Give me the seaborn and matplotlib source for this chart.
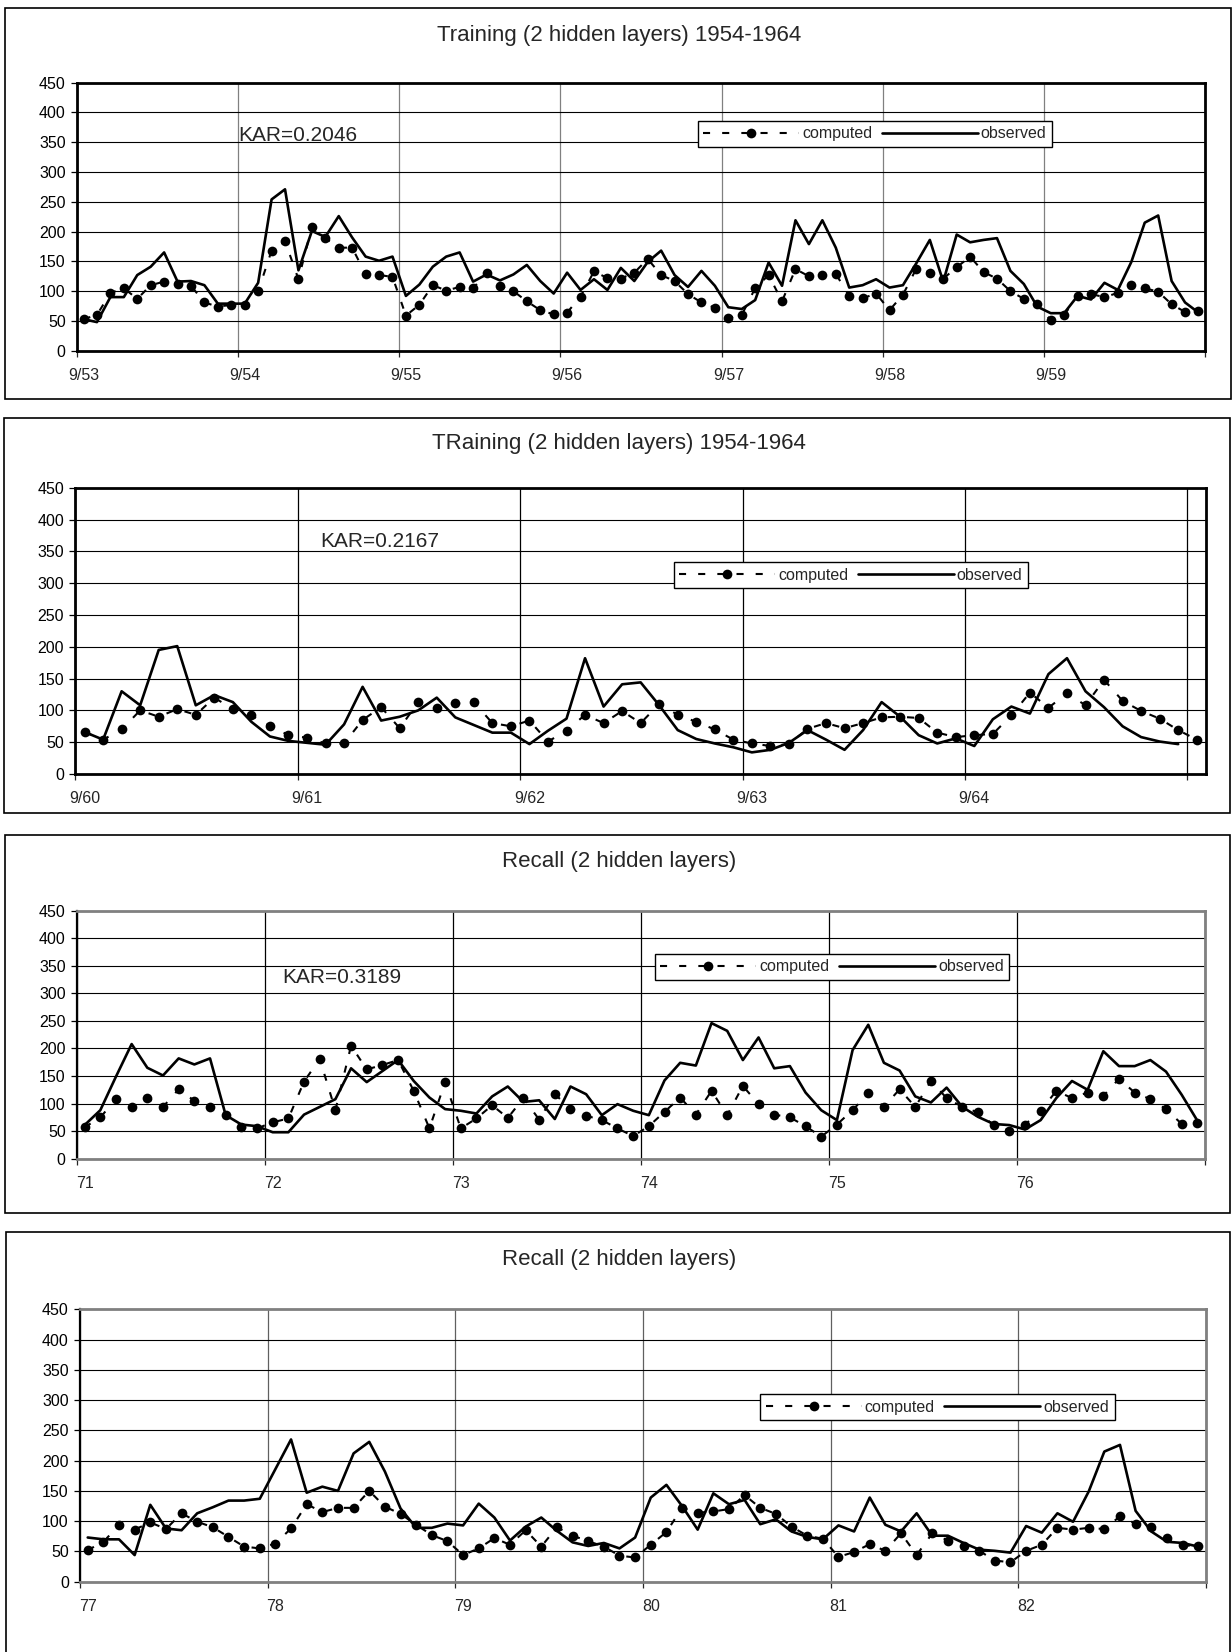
import numpy as np
import matplotlib
matplotlib.use('Agg')
import matplotlib.pyplot as plt
import seaborn as sns
from matplotlib.patches import Rectangle

sns.set_style('white')
plt.rcParams['font.family'] = ['Liberation Sans', 'DejaVu Sans']

# ---- data (monthly values) ----
titles = ['Training (2 hidden layers) 1954-1964',
          'TRaining (2 hidden layers) 1954-1964',
          'Recall (2 hidden layers)',
          'Recall (2 hidden layers)']

p1_labels = ['9/53', '9/54', '9/55', '9/56', '9/57', '9/58', '9/59']
p1_comp = [53, 60, 97, 105, 87, 110, 116, 112, 109, 81, 74, 77,
           76, 100, 168, 184, 120, 208, 189, 173, 173, 128, 127, 124,
           59, 77, 110, 101, 107, 105, 130, 109, 100, 83, 68, 61,
           64, 91, 133, 122, 121, 131, 154, 127, 117, 95, 81, 72,
           55, 60, 105, 127, 83, 137, 125, 127, 129, 92, 88, 96,
           68, 94, 138, 131, 121, 140, 158, 132, 121, 100, 87, 78,
           51, 60, 92, 95, 90, 97, 111, 105, 99, 78, 65, 67]
p1_obs = [53, 48, 90, 90, 127, 141, 165, 116, 117, 110, 79, 79,
          79, 114, 254, 271, 135, 201, 191, 226, 190, 158, 151, 158,
          92, 111, 141, 158, 165, 116, 128, 118, 128, 144, 117, 96,
          131, 102, 120, 102, 139, 117, 149, 168, 127, 107, 134, 109,
          73, 70, 85, 148, 109, 219, 179, 219, 173, 106, 110, 120,
          106, 110, 147, 186, 116, 195, 182, 186, 189, 134, 112, 74,
          63, 63, 92, 86, 114, 102, 149, 215, 227, 117, 81, 64]

p2_labels = ['9/60', '9/61', '9/62', '9/63', '9/64']
p2_comp = [66, 54, 70, 100, 90, 102, 93, 120, 102, 92, 76, 61,
           57, 48, 48, 85, 105, 72, 113, 104, 111, 113, 80, 75,
           84, 51, 68, 93, 80, 99, 80, 110, 93, 82, 70, 54,
           48, 44, 47, 71, 80, 72, 80, 89, 90, 88, 65, 58,
           61, 63, 92, 128, 104, 127, 108, 148, 115, 99, 87, 69,
           54]
p2_obs = [66, 54, 130, 108, 195, 201, 108, 124, 113, 82, 59, 52,
          49, 46, 78, 137, 84, 90, 100, 120, 89, 77, 65, 65,
          47, 68, 87, 182, 106, 141, 144, 108, 69, 55, 48, 42,
          34, 38, 49, 69, 54, 38, 69, 113, 90, 61, 48, 56,
          44, 86, 106, 95, 157, 182, 130, 105, 75, 58, 51, 47]

p3_labels = ['71', '72', '73', '74', '75', '76']
p3_comp = [57, 75, 108, 93, 110, 94, 126, 105, 94, 79, 57, 55,
           66, 73, 140, 181, 88, 205, 162, 170, 179, 123, 55, 139,
           55, 73, 97, 74, 110, 71, 117, 91, 78, 70, 55, 41,
           59, 85, 111, 80, 123, 79, 132, 99, 80, 75, 59, 40,
           62, 88, 119, 94, 126, 94, 141, 110, 94, 84, 61, 51,
           62, 87, 123, 110, 120, 114, 145, 120, 108, 90, 63, 64]
p3_obs = [61, 88, 149, 208, 165, 151, 182, 171, 182, 79, 62, 59,
          48, 48, 80, 94, 108, 164, 139, 159, 179, 141, 111, 90,
          87, 82, 113, 131, 103, 106, 72, 131, 117, 79, 99, 87,
          79, 142, 174, 169, 246, 232, 179, 220, 164, 168, 120, 88,
          70, 197, 243, 174, 160, 113, 102, 129, 94, 76, 63, 61,
          53, 70, 110, 141, 125, 195, 168, 168, 179, 158, 116, 69]

p4_labels = ['77', '78', '79', '80', '81', '82']
p4_comp = [52, 66, 93, 86, 98, 87, 113, 99, 90, 74, 58, 55,
           63, 88, 128, 115, 122, 122, 150, 124, 112, 94, 77, 67,
           44, 55, 72, 61, 85, 58, 90, 76, 67, 58, 43, 40,
           61, 82, 122, 114, 116, 120, 143, 122, 112, 91, 76, 71,
           41, 49, 62, 51, 80, 44, 80, 68, 59, 51, 35, 32,
           51, 61, 89, 86, 89, 87, 108, 96, 91, 72, 60, 59]
p4_obs = [73, 70, 70, 44, 127, 88, 85, 113, 123, 134, 134, 137,
          186, 235, 147, 157, 150, 212, 231, 182, 121, 89, 89, 96,
          93, 129, 106, 68, 91, 106, 84, 65, 59, 64, 55, 73,
          139, 160, 125, 86, 146, 128, 135, 95, 103, 83, 74, 70,
          93, 83, 139, 94, 83, 113, 76, 76, 64, 53, 51, 48,
          92, 81, 113, 99, 149, 215, 226, 117, 83, 66, 64, 58]

kar_texts = ['KAR=0.2046', 'KAR=0.2167', 'KAR=0.3189', None]

W, H = 1232, 1652
fig = plt.figure(figsize=(W / 100, H / 100), dpi=100)
fig.patch.set_facecolor('white')


def px_axes(left, right, top, bottom):
    return fig.add_axes([left / W, 1 - bottom / H, (right - left) / W, (bottom - top) / H])


def draw_panel(ax, comp, obs, n_months, labels, kar, kar_xy, leg_xy, frame, vgrid):
    x_comp = np.arange(len(comp)) + 0.5
    x_obs = np.arange(len(obs)) + 0.5
    sns.lineplot(x=x_comp, y=comp, ax=ax, color='black', linestyle=(0, (3.4, 5.8)),
                 linewidth=1.5, marker='o', markersize=7, markeredgewidth=0,
                 label='computed')
    sns.lineplot(x=x_obs, y=obs, ax=ax, color='black', linewidth=1.9,
                 label='observed')

    ax.set_xlim(0, n_months)
    ax.set_ylim(0, 450)
    ax.set_yticks(range(0, 451, 50))
    bounds = list(range(0, n_months + 1, 12))
    ax.set_xticks(bounds)
    ax.set_xticklabels([])
    ax.set_xticks([b + 0.5 for b in bounds[:len(labels)]], labels, minor=True)
    ax.set_xlabel('')
    ax.set_ylabel('')

    ax.grid(axis='y', color='black', linewidth=0.8)
    ax.grid(axis='x', which='major', color=vgrid, linewidth=0.9)
    ax.set_axisbelow(True)

    ax.tick_params(axis='y', left=True, length=4, width=0.9, pad=4, labelsize=11.5,
                   colors='black')
    ax.tick_params(axis='x', which='major', bottom=True, length=4, width=0.9,
                   labelbottom=False)
    ax.tick_params(axis='x', which='minor', bottom=True, length=0, pad=12.5,
                   labelsize=11.5)

    for side, sp in ax.spines.items():
        sp.set_visible(True)
        sp.set_color(frame)
        sp.set_linewidth(2.0)
    ax.spines['left'].set_color('black')
    ax.spines['left'].set_linewidth(1.6 if frame != 'black' else 2.0)

    if kar:
        ax.text(kar_xy[0], kar_xy[1], kar, fontsize=15, ha='left', va='center')

    leg = ax.legend(loc='center left', bbox_to_anchor=leg_xy, ncol=2, fontsize=11.5,
                    handlelength=6.0, handletextpad=0.2, columnspacing=0.6,
                    borderpad=0.35, frameon=True, fancybox=False, edgecolor='black',
                    framealpha=1)
    leg.get_frame().set_linewidth(1.0)


# outer chart boxes (pixels: left, top, right, bottom)
boxes = [(5, 8, 1231, 399), (4, 418, 1230, 813), (5, 835, 1230, 1213), (6, 1232, 1230, 1700)]
for l, t, r, b in boxes:
    fig.add_artist(Rectangle((l / W, 1 - b / H), (r - l) / W, (b - t) / H,
                             transform=fig.transFigure, fill=False,
                             edgecolor='black', linewidth=1.2))

title_y = [35, 444, 862, 1260]
for t, y in zip(titles, title_y):
    fig.text(619 / W, 1 - y / H, t, ha='center', va='center', fontsize=16)

ax1 = px_axes(76.8, 1205.2, 82.7, 350.7)
draw_panel(ax1, p1_comp, p1_obs, 84, p1_labels, kar_texts[0], (12, 362),
           (0.543, 0.809), 'black', '#808080')

ax2 = px_axes(75.3, 1206, 487.7, 774)
draw_panel(ax2, p2_comp, p2_obs, 61, p2_labels, kar_texts[1], (13.2, 366),
           (0.522, 0.694), 'black', 'black')

ax3 = px_axes(76.8, 1205.2, 910.7, 1158.7)
draw_panel(ax3, p3_comp, p3_obs, 72, p3_labels, kar_texts[2], (13.1, 328),
           (0.505, 0.773), '#808080', 'black')

ax4 = px_axes(79.9, 1206, 1309.3, 1581.7)
draw_panel(ax4, p4_comp, p4_obs, 72, p4_labels, kar_texts[3], None,
           (0.597, 0.641), '#808080', '#606060')

fig.savefig('out.png', dpi=100, facecolor='white')
